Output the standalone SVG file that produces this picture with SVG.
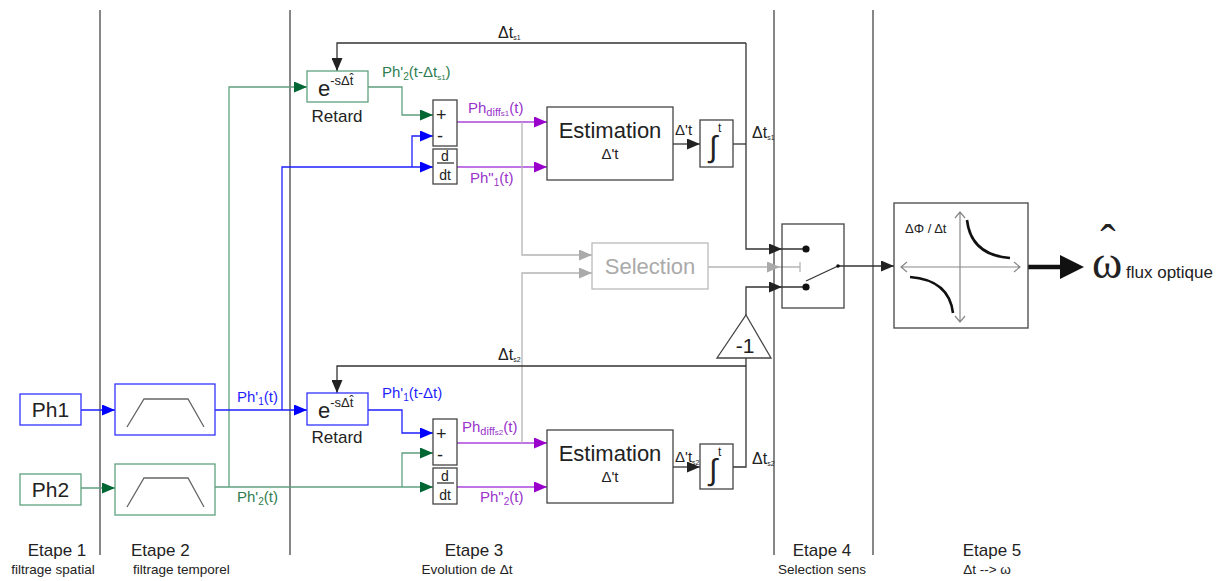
<svg xmlns="http://www.w3.org/2000/svg" width="1231" height="581" viewBox="0 0 1231 581">
<style>
text{font-family:"Liberation Sans",Arial,sans-serif;fill:#222}
.sep{stroke:#555;stroke-width:1.4;fill:none}
.box{fill:#fff;stroke:#444;stroke-width:1.3}
.bbox{fill:#fff;stroke:#3333ff;stroke-width:1.3}
.gbox{fill:#fff;stroke:#5fa07f;stroke-width:1.3}
.k{stroke:#333;stroke-width:1.3;fill:none}
.b{stroke:#1f1fff;stroke-width:1.3;fill:none}
.g{stroke:#5fa07f;stroke-width:1.3;fill:none}
.p{stroke:#aa44dd;stroke-width:1.3;fill:none}
.gr{stroke:#b4b4b4;stroke-width:1.3;fill:none}
.tb{fill:#1f1fff}
.tg{fill:#2e7d4f}
.tp{fill:#9933cc}
.trap{stroke:#666;stroke-width:1.3;fill:none}
.mid{font-size:15px}
.et{font-size:17px;text-anchor:middle}
.sm{font-size:13.5px;text-anchor:middle}
.serif{font-family:"Liberation Serif","Times New Roman",serif}
</style>
<defs>
<marker id="ak" markerUnits="userSpaceOnUse" markerWidth="13" markerHeight="11" refX="13" refY="5.5" orient="auto"><path d="M0,0 L13,5.5 L0,11 z" fill="#222"/></marker>
<marker id="ab" markerUnits="userSpaceOnUse" markerWidth="13" markerHeight="11" refX="13" refY="5.5" orient="auto"><path d="M0,0 L13,5.5 L0,11 z" fill="#0000ff"/></marker>
<marker id="ag" markerUnits="userSpaceOnUse" markerWidth="13" markerHeight="11" refX="13" refY="5.5" orient="auto"><path d="M0,0 L13,5.5 L0,11 z" fill="#006633"/></marker>
<marker id="ap" markerUnits="userSpaceOnUse" markerWidth="13" markerHeight="11" refX="13" refY="5.5" orient="auto"><path d="M0,0 L13,5.5 L0,11 z" fill="#9900cc"/></marker>
<marker id="agr" markerUnits="userSpaceOnUse" markerWidth="13" markerHeight="11" refX="13" refY="5.5" orient="auto"><path d="M0,0 L13,5.5 L0,11 z" fill="#aaaaaa"/></marker>
</defs>

<g id="separators">
<path class="sep" d="M100,10 V555 M290,10 V555 M774,10 V555 M873,10 V555"/>
</g>

<g id="connectors">
<path class="g" d="M81,488 H115" marker-end="url(#ag)"/>
<path class="g" d="M215,487 H433" marker-end="url(#ag)"/>
<path class="g" d="M229,487 V87 H307" marker-end="url(#ag)"/>
<path class="g" d="M368,87 H402 V115 H433" marker-end="url(#ag)"/>
<path class="g" d="M402,487 V453 H433" marker-end="url(#ag)"/>
<path class="b" d="M81,410 H115" marker-end="url(#ab)"/>
<path class="b" d="M215,410 H307" marker-end="url(#ab)"/>
<path class="b" d="M282,410 V167 H433" marker-end="url(#ab)"/>
<path class="b" d="M412,167 V136 H433" marker-end="url(#ab)"/>
<path class="b" d="M368,410 H402 V433 H433" marker-end="url(#ab)"/>
<path class="p" d="M457,122 H547" marker-end="url(#ap)"/>
<path class="p" d="M457,167 H547" marker-end="url(#ap)"/>
<path class="p" d="M457,443 H547" marker-end="url(#ap)"/>
<path class="p" d="M457,487 H547" marker-end="url(#ap)"/>
<path class="gr" d="M522,122 V255 H592" marker-end="url(#agr)"/>
<path class="gr" d="M522,443 V273 H592" marker-end="url(#agr)"/>
<path class="gr" d="M708,267 H780" marker-end="url(#agr)"/>
<path class="gr" d="M780,267 H800 M800,262 V272"/>
<path class="k" d="M673,144 H700" marker-end="url(#ak)"/>
<path class="k" d="M673,467 H700" marker-end="url(#ak)"/>
<path class="k" d="M733,144 H746"/>
<path class="k" d="M746,43 V249 H782" marker-end="url(#ak)"/>
<path class="k" d="M746,43 H337 V71" marker-end="url(#ak)"/>
<path class="k" d="M733,467 H746 V358"/>
<path class="k" d="M746,366 H337 V393" marker-end="url(#ak)"/>
<path class="k" d="M746,315 V287 H782" marker-end="url(#ak)"/>
<path class="k" d="M838,266 H894" marker-end="url(#ak)"/>
<path d="M1028,267 H1064" stroke="#111" stroke-width="4.5" fill="none"/>
<path d="M1060,255 L1084,267 L1060,279 z" fill="#111"/>
</g>

<g id="ph1"><rect class="bbox" x="20" y="394" width="61" height="31"/><text x="50.5" y="417" font-size="21" text-anchor="middle">Ph1</text></g>
<g id="ph2"><rect class="gbox" x="20" y="474" width="61" height="31"/><text x="50.5" y="497" font-size="21" text-anchor="middle">Ph2</text></g>

<g id="filter1"><rect class="bbox" x="115" y="384" width="100" height="51"/><path class="trap" d="M127,427 L144,399 H188 L204,427"/></g>
<g id="filter2"><rect class="gbox" x="115" y="464" width="100" height="51"/><path class="trap" d="M127,507 L144,478 H188 L204,507"/></g>
<text x="237" y="402" class="mid tb">Ph'<tspan dy="3" font-size="10">1</tspan><tspan dy="-3">(t)</tspan></text>
<text x="237" y="502" class="mid tg">Ph'<tspan dy="3" font-size="10">2</tspan><tspan dy="-3">(t)</tspan></text>

<g id="retard1"><rect class="gbox" x="307" y="71" width="61" height="31"/><text x="318" y="96" font-size="22">e<tspan dy="-11" font-size="13">-sΔt̂</tspan></text><text x="337" y="122" font-size="17" text-anchor="middle">Retard</text></g>
<g id="retard2"><rect class="bbox" x="307" y="393" width="61" height="32"/><text x="318" y="418" font-size="22">e<tspan dy="-11" font-size="13">-sΔt̂</tspan></text><text x="337" y="443" font-size="17" text-anchor="middle">Retard</text></g>
<text x="382" y="77" class="mid tg">Ph'<tspan dy="3" font-size="10">2</tspan><tspan dy="-3">(t-Δt</tspan><tspan dy="3" font-size="8">s1</tspan><tspan dy="-3">)</tspan></text>
<text x="382" y="398" class="mid tb">Ph'<tspan dy="3" font-size="10">1</tspan><tspan dy="-3">(t-Δt)</tspan></text>

<g id="sum1"><rect class="box" x="433" y="100" width="24" height="46"/><text x="436" y="121" font-size="18">+</text><text x="437" y="142" font-size="18">-</text></g>
<g id="ddt1"><rect class="box" x="433" y="149" width="24" height="35"/><text x="445" y="161" font-size="14" text-anchor="middle">d</text><path class="k" d="M437,163 H454"/><text x="445" y="180" font-size="14" text-anchor="middle">dt</text></g>
<g id="sum2"><rect class="box" x="433" y="419" width="24" height="46"/><text x="436" y="440" font-size="18">+</text><text x="437" y="461" font-size="18">-</text></g>
<g id="ddt2"><rect class="box" x="433" y="468" width="24" height="36"/><text x="445" y="481" font-size="14" text-anchor="middle">d</text><path class="k" d="M437,483 H454"/><text x="445" y="500" font-size="14" text-anchor="middle">dt</text></g>

<text x="468" y="113" class="mid tp">Ph<tspan dy="3" font-size="11">diff</tspan><tspan font-size="8">s1</tspan><tspan dy="-3">(t)</tspan></text>
<text x="470" y="183" class="mid tp">Ph"<tspan dy="3" font-size="10">1</tspan><tspan dy="-3">(t)</tspan></text>
<text x="462" y="432" class="mid tp">Ph<tspan dy="3" font-size="11">diff</tspan><tspan font-size="8">s2</tspan><tspan dy="-3">(t)</tspan></text>
<text x="480" y="502" class="mid tp">Ph"<tspan dy="3" font-size="10">2</tspan><tspan dy="-3">(t)</tspan></text>

<g id="estim1"><rect class="box" x="547" y="107" width="126" height="73"/><text x="610" y="138" font-size="22" text-anchor="middle">Estimation</text><text x="610" y="159" font-size="15" text-anchor="middle">Δ't</text></g>
<g id="estim2"><rect class="box" x="547" y="430" width="126" height="73"/><text x="610" y="461" font-size="22" text-anchor="middle">Estimation</text><text x="610" y="482" font-size="15" text-anchor="middle">Δ't</text></g>
<text x="675" y="135" font-size="15">Δ't</text>
<text x="675" y="462" font-size="15">Δ't<tspan dy="3" font-size="7">s2</tspan></text>

<g id="integ1"><rect class="box" x="700" y="120" width="33" height="47"/><text x="709" y="157" font-size="30">∫</text><text x="718" y="132" font-size="12">t</text></g>
<g id="integ2"><rect class="box" x="700" y="444" width="33" height="45"/><text x="709" y="480" font-size="30">∫</text><text x="718" y="456" font-size="12">t</text></g>
<text x="752" y="138" font-size="16">Δt<tspan dy="2" font-size="7">s1</tspan></text>
<text x="752" y="464" font-size="16">Δt<tspan dy="2" font-size="7">s2</tspan></text>
<text x="498" y="38" font-size="16">Δt<tspan dy="2" font-size="7">s1</tspan></text>
<text x="498" y="360" font-size="16">Δt<tspan dy="2" font-size="7">s2</tspan></text>

<g id="selection"><rect fill="#fff" stroke="#bbb" stroke-width="1.3" x="592" y="243" width="116" height="46"/><text x="650" y="274" font-size="22" text-anchor="middle" style="fill:#aaa">Selection</text></g>

<g id="neg"><polygon class="box" points="746,315 771,358 717,358"/><text x="745" y="353" font-size="21" text-anchor="middle">-1</text></g>

<g id="switch"><rect x="782" y="224" width="62" height="84" fill="none" stroke="#444" stroke-width="1.3"/><path class="k" d="M782,249 H806 M782,287 H806 M806,281 L838,266"/><circle cx="806" cy="249" r="3.6" fill="#111"/><circle cx="806" cy="287" r="3.6" fill="#111"/><circle cx="838" cy="266" r="1.8" fill="#111"/></g>

<g id="etape5"><rect class="box" x="894" y="203" width="134" height="125"/>
<path stroke="#888" stroke-width="1.2" fill="none" d="M901,267 H1020 M907,262 L901,267 L907,272 M1014,262 L1020,267 L1014,272 M960,212 V322 M955,218 L960,212 L965,218 M955,316 L960,322 L965,316"/>
<path stroke="#111" stroke-width="2.6" fill="none" d="M967,220 Q971,255 1010,258 M910,277 Q949,280 953,313"/>
<text x="905" y="233" font-size="13">ΔΦ / Δt</text></g>
<g id="output"><text x="1092" y="278" font-size="46" class="serif">ω</text><text x="1108" y="257" font-size="46" class="serif" text-anchor="middle">ˆ</text><text x="1126" y="278" font-size="17">flux optique</text></g>

<g id="labels">
<text x="57" y="556" class="et">Etape 1</text><text x="53" y="574" class="sm">filtrage spatial</text>
<text x="131" y="556" font-size="17">Etape 2</text><text x="133" y="574" font-size="13.5">filtrage temporel</text>
<text x="474" y="556" class="et">Etape 3</text><text x="467" y="574" class="sm">Evolution de Δt</text>
<text x="822" y="556" class="et">Etape 4</text><text x="822" y="574" class="sm">Selection sens</text>
<text x="992" y="556" class="et">Etape 5</text><text x="987" y="574" class="sm">Δt --&gt; ω</text>
</g>
</svg>
